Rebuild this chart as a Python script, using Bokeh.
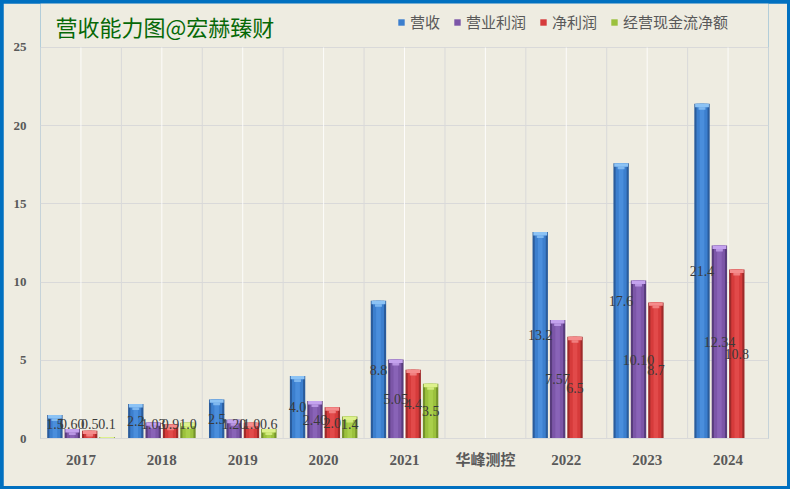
from bokeh.plotting import figure
from bokeh.layouts import column
from bokeh.models import (ColumnDataSource, FactorRange, Range1d, FixedTicker,
                          Label, Legend, LegendItem)
from bokeh.transform import dodge
from bokeh.core.properties import value
from bokeh.embed import file_html
from bokeh.resources import INLINE

# ---- data ----
categories = ["2017", "2018", "2019", "2020", "2021", "华峰测控", "2022", "2023", "2024"]
revenue = [1.5, 2.2, 2.5, 4.0, 8.8, None, 13.2, 17.6, 21.4]
op_profit = [0.60, 1.03, 1.20, 2.40, 5.05, None, 7.57, 10.10, 12.34]
net_profit = [0.5, 0.9, 1.0, 2.0, 4.4, None, 6.5, 8.7, 10.8]
cash_flow = [0.1, 1.0, 0.6, 1.4, 3.5, None, None, None, None]
series_names = ["营收", "营业利润", "净利润", "经营现金流净额"]
series_decimals = [1, 2, 1, 1]
y_ticks = [0, 5, 10, 15, 20, 25]
title_text = "营收能力图@宏赫臻财"

# ---- styles ----
BG = "#EEECE1"
GRID = "#D9D9D9"
BORDER = "#0070C0"
edge_colors = ["#2A5C9C", "#583C7C", "#9E2A2A", "#74932B"]
body_colors = ["#3C7FCE", "#7C56A8", "#D63B3B", "#9BC13D"]
hi_colors = ["#4A8EDC", "#8963B7", "#E24A4A", "#A9CF4B"]
cap_colors = ["#8CC3F5", "#C4A2EE", "#F58C8C", "#DDF18C"]
offsets = [-0.322, -0.107, 0.108, 0.323]
BAR_W = 0.19
Y_MAX = y_ticks[-1]

p = figure(width=784, height=483, output_backend="svg", toolbar_location=None,
           x_range=FactorRange(*categories, range_padding=0, factor_padding=0),
           y_range=Range1d(0, 27.81))
p.min_border_left = 37
p.min_border_right = 19
p.min_border_top = 0
p.min_border_bottom = 48
p.background_fill_color = BG
p.border_fill_color = BG
p.outline_line_color = None

# grids
p.ygrid.grid_line_color = GRID
p.ygrid.ticker = FixedTicker(ticks=y_ticks[1:])
p.xgrid.grid_line_color = None
n = len(categories)
bounds = list(range(n + 1))
centers = [i + 0.5 for i in range(n)]
p.segment(x0=centers, x1=centers, y0=[0] * n, y1=[Y_MAX] * n,
          line_color="#FFFFFF", line_alpha=0.85, line_width=1)
p.segment(x0=bounds, x1=bounds, y0=[0] * (n + 1), y1=[Y_MAX] * (n + 1),
          line_color=GRID, line_width=1)

# axes
p.yaxis.ticker = FixedTicker(ticks=y_ticks)
p.yaxis.axis_line_color = None
p.yaxis.major_tick_line_color = None
p.yaxis.minor_tick_line_color = None
p.yaxis.major_tick_out = 0
p.yaxis.major_tick_in = 0
p.yaxis.major_label_standoff = 14
p.yaxis.major_label_text_font = "Liberation Serif"
p.yaxis.major_label_text_font_style = "bold"
p.yaxis.major_label_text_font_size = "13px"
p.yaxis.major_label_text_color = "#595959"

p.xaxis.axis_line_color = GRID
p.xaxis.major_tick_line_color = None
p.xaxis.minor_tick_line_color = None
p.xaxis.major_tick_out = 0
p.xaxis.major_tick_in = 0
p.xaxis.major_label_standoff = 13
p.xaxis.major_label_text_font = "Liberation Serif, Noto Sans CJK SC"
p.xaxis.major_label_text_font_style = "bold"
p.xaxis.major_label_text_font_size = "15px"
p.xaxis.major_label_text_color = "#595959"

all_series = [revenue, op_profit, net_profit, cash_flow]
legend_items = []
label_sources = []
for k, vals in enumerate(all_series):
    xs = [c for c, v in zip(categories, vals) if v is not None]
    vs = [v for v in vals if v is not None]
    src = ColumnDataSource(dict(
        x=xs, v=vs,
        cap_b=[max(0.0, v - 0.22) for v in vs],
        cap2_b=[max(0.0, v - 0.38) for v in vs],
        ly=[max(v / 2.0, 0.95) for v in vs],
        txt=[f"{v:.{series_decimals[k]}f}" for v in vs],
    ))
    xd = dodge("x", offsets[k], range=p.x_range)
    p.vbar(x=xd, top="v", bottom=0, width=BAR_W, source=src,
           fill_color=edge_colors[k], line_color=None)
    r = p.vbar(x=xd, top="v", bottom=0, width=BAR_W * 0.72, source=src,
               fill_color=body_colors[k], line_color=None)
    p.vbar(x=xd, top="v", bottom=0, width=BAR_W * 0.3, source=src,
           fill_color=hi_colors[k], line_color=None)
    p.vbar(x=xd, top="v", bottom="cap_b", width=BAR_W * 0.9, source=src,
           fill_color=cap_colors[k], line_color=None)
    p.vbar(x=xd, top="cap_b", bottom="cap2_b", width=BAR_W * 0.45, source=src,
           fill_color=cap_colors[k], line_color=None, fill_alpha=0.8)
    legend_items.append(LegendItem(label=series_names[k], renderers=[r]))
    label_sources.append((src, xd))

for src, xd in label_sources:
    p.text(x=xd, y="ly", text="txt", source=src, text_align="center",
           text_baseline="middle", text_font=value("Liberation Serif"),
           text_font_size="14px", text_color="#3A3A3A")

legend = Legend(items=legend_items, orientation="horizontal", location=(357, 406),
                glyph_width=8, glyph_height=8, label_text_font="Noto Sans CJK SC",
                label_text_font_size="15px", label_text_color="#595959",
                spacing=13, label_standoff=5, padding=0, margin=0,
                background_fill_alpha=0, border_line_alpha=0)
p.add_layout(legend)

p.add_layout(Label(x=15, y=413, x_units="screen", y_units="screen", text=title_text,
                   text_font="Noto Sans CJK SC", text_font_size="22px",
                   text_color="#066806", text_baseline="middle"))

page = column(p, styles={"background-color": BORDER, "padding": "3px"})

open("out.html", "w").write(file_html(page, INLINE))
